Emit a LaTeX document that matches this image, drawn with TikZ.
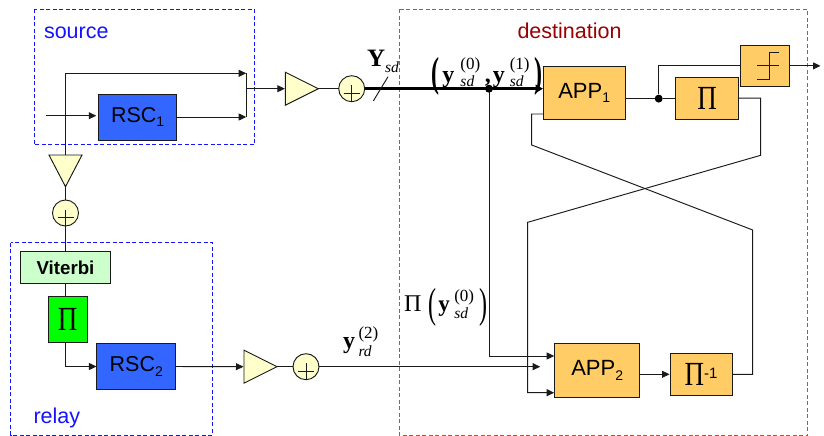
\documentclass[tikz,border=0pt]{standalone}
\usepackage{fontspec}
\usepackage{graphicx}
\setmainfont{Liberation Serif}
\newfontfamily\arial{Liberation Sans}
\usetikzlibrary{arrows.meta,shapes.geometric}
\definecolor{blk}{HTML}{3366FF}
\definecolor{org}{HTML}{FFCC66}
\definecolor{ylw}{HTML}{FFFFCC}
\definecolor{vit}{HTML}{CCFFCC}
\definecolor{grn}{HTML}{00FF00}
\definecolor{dred}{HTML}{990000}
\definecolor{sblue}{RGB}{20,20,255}
\definecolor{regionred}{RGB}{240,50,65}
\definecolor{ln}{HTML}{1A1A1A}
\newcommand\fsz[1]{\fontsize{#1}{#1}\selectfont}
\newcommand\sans[2][21.5]{{\arial\fsz{#1}#2}}
\newcommand\subs[1]{\raisebox{-4.5pt}{\fsz{14}#1}}
\newcommand\pibig{{\fsz{27}\symbolpi}}
\newcommand\symbolpi{\scalebox{1}[1.25]{\char"03A0}}
\newcommand\tallp[3]{\raisebox{#3}{\scalebox{1}[1.75]{\fsz{#2}#1}}}
% bold y with a stacked subscript and superscript: sub, sup, gap, sup raise, size, sub drop
\newcommand\yy[6]{{\bfseries\fsz{#5}y}\kern#3\rlap{\raisebox{#6}{\itshape\fsz{15.5}#1}}\raisebox{#4}{\fsz{17}#2}}
\tikzset{
  x=1pt,y=-1pt,
  wire/.style={draw=ln,line width=0.95pt},
  arr/.style={wire,-{Triangle[length=7.5pt,width=7pt]},shorten >=0.5pt},
  thickwire/.style={draw=black,line width=3pt},
  srcregion/.style={draw=sblue,line width=1pt,dash pattern=on 4pt off 2.5pt},
  dstregion/.style={draw=regionred,line width=1pt,dash pattern=on 4pt off 2.5pt},
  blockbox/.style={draw=ln,line width=1pt,inner sep=0pt,outer sep=0pt,text=black,align=center},
  bluebox/.style={blockbox,fill=blk},
  orgbox/.style={blockbox,fill=org},
  amp/.style={isosceles triangle,isosceles triangle stretches,draw=ln,line width=0.95pt,fill=ylw,
              inner sep=0pt,outer sep=0pt,minimum width=33pt,minimum height=33pt},
  addr/.style={circle,draw=ln,line width=0.95pt,fill=ylw,inner sep=0pt,outer sep=0pt,minimum size=26pt},
  jdot/.style={circle,fill=black,inner sep=0pt,minimum size=8pt},
  lab/.style={inner sep=0pt,outer sep=0pt,anchor=base west},
}
\newcommand\pluss[1]{\draw[wire] ([xshift=-8pt,yshift=-4.5pt]#1.center) -- ([xshift=8pt,yshift=-4.5pt]#1.center)
  ([yshift=3.5pt]#1.center) -- ([yshift=-12.5pt]#1.center);}
\begin{document}
\begin{tikzpicture}
\useasboundingbox (0,0) rectangle (824,436);
% regions
\draw[dstregion] (399.3,9.5) rectangle (807.7,435.3);
\draw[srcregion] (34,9.5) rectangle (254.7,144.7);
\draw[srcregion] (10.7,242.7) rectangle (212.7,435);
\node[lab,text=sblue] (lsource) at (44,38) {\sans{source}};
\node[lab,text=sblue] (lrelay) at (33.5,423) {\sans{relay}};
\node[lab,text=dred] (ldest) at (517.5,38) {\sans{destination}};
% blocks
\node[bluebox,minimum width=78.7pt,minimum height=46pt] (rsc1) at (137.6,117) {\sans{RSC\subs{1}}};
\node[bluebox,minimum width=78.7pt,minimum height=45.6pt] (rsc2) at (136.3,366.5) {\sans{RSC\subs{2}}};
\node[blockbox,fill=vit,minimum width=90.4pt,minimum height=31.6pt] (vit) at (65.5,267.5) {\sans[18.7]{\bfseries Viterbi}};
\node[blockbox,fill=grn,minimum width=38.7pt,minimum height=46pt] (pig) at (67.7,319.3) {\pibig};
\node[orgbox,minimum width=82.3pt,minimum height=53.7pt] (app1) at (584.2,92.9) {\sans[22]{APP\subs{1}}};
\node[orgbox,minimum width=85pt,minimum height=53.7pt] (app2) at (597.2,370.2) {\sans[22]{APP\subs{2}}};
\node[orgbox,minimum width=62.6pt,minimum height=41.7pt] (pi1) at (707,98.2) {\pibig};
\node[orgbox,minimum width=62pt,minimum height=42pt] (pii) at (701,374.3) {\pibig\raisebox{7pt}{\sans[15]{-1}}};
\node[orgbox,minimum width=49.7pt,minimum height=41.7pt] (dec) at (764.9,65.9) {};
% amplifiers and adders
\node[amp,anchor=apex] (t1) at (318.3,88.7) {};
\node[amp,anchor=apex] (t2) at (277,366.7) {};
\node[amp,shape border rotate=270,anchor=apex,minimum height=31.7pt] (t3) at (65.5,186.7) {};
\node[addr] (a1) at (351.7,88.7) {};
\node[addr] (a2) at (306,366.7) {};
\node[addr] (a3) at (65.5,213) {};
\pluss{a1}\pluss{a2}\pluss{a3}
% step symbol
\draw[wire] ([xshift=-7.6pt]dec.center) -- ([xshift=14.4pt]dec.center)
  ([xshift=14.4pt,yshift=13.6pt]dec.center) -- ([xshift=4.4pt,yshift=13.6pt]dec.center)
  -- ([xshift=4.4pt,yshift=-13.4pt]dec.center) -- ([xshift=-8.2pt,yshift=-13.4pt]dec.center);
% free ends and junctions
\coordinate (in) at (46,115.7);
\coordinate (mt) at (246.7,73.3);
\coordinate (mb) at (246.7,117);
\coordinate (mo) at (246.7,88.7);
\coordinate (out) at (821,65.9);
\coordinate (fb1) at (760.7,155.3);
\coordinate (fb1b) at (527.7,222.3);
\coordinate (fb2) at (531.7,145);
\coordinate (fb2b) at (752.7,230);
\coordinate (relayend) at (540.7,366.7);
\coordinate (j1c) at (489,88.7);
\node[jdot] (j2) at (658.7,98.6) {};
% connectors: source
\draw[arr] (t3.lower side) -- (t3.lower side |- mt) -- (mt);
\draw[arr,shorten >=2pt] (in) -- (in -| rsc1.west);
\draw[arr] (rsc1.east) -- (mb);
\draw[wire] (mt) -- (mb);
\draw[arr] (mo) -- (t1.lower side);
\draw[wire] (t1.apex) -- (a1.west);
\draw[thickwire,-{Triangle[length=7.5pt,width=8pt]}] (a1.east) -- (j1c -| app1.west);
\coordinate (sl1) at (373.3,101);
\coordinate (sl2) at (388,76.7);
\draw[wire] (sl1) -- (sl2);
% connectors: relay branch
\draw[wire] (t3.apex) -- (a3.north);
\draw[wire] (a3.south) -- (vit.north -| a3.south);
\draw[wire] (vit.south -| a3.south) -- (pig.north -| a3.south);
\draw[arr] (pig.south -| a3.south) |- (rsc2.west);
\draw[arr] (rsc2.east) -- (t2.lower side);
\draw[wire] (t2.apex) -- (a2.west);
\draw[arr] (a2.east) -- (relayend);
% connectors: destination
\draw[arr] (j1c) |- ([yshift=14.2pt]app2.west);
\node[jdot] (j1) at (j1c) {};
\draw[wire] (app1.east |- j2) -- (j2);
\draw[wire] (j2) -- (pi1.west |- j2);
\draw[wire] (j2) |- (dec.west);
\draw[arr] (dec.east) -- (out);
\draw[arr] (pi1.east) -| (fb1) -- (fb1b) -- ([yshift=-22.5pt]app2.west -| fb1b) -- ([yshift=-22.5pt]app2.west);
\draw[wire] ([yshift=-21.1pt]app1.west) -| (fb2) -- (fb2b) |- (pii.east);
\draw[arr] (app2.east |- pii.west) -- (pii.west);
% labels
\node[lab] (lY) at (367,66.7) {{\bfseries\fsz{25}Y}\raisebox{-6pt}{\itshape\fsz{15.5}sd}};
\node[lab] (lpair) at (431.5,82) {\tallp{\bfseries (}{24}{-4.5pt}\kern3pt\yy{sd}{(0)}{6pt}{13pt}{24}{-4.5pt}\kern4.5pt{\bfseries\fsz{24},}\kern2pt\yy{sd}{(1)}{5pt}{13pt}{24}{-4.5pt}\kern5pt\tallp{\bfseries )}{24}{-4.5pt}};
\node[lab] (lrd) at (343,348) {\yy{rd}{(2)}{3.5pt}{10pt}{24}{-8pt}};
\node[lab] (lpi) at (404,311.7) {{\fsz{24}\char"03A0}\kern7pt\tallp{(}{24}{-6pt}\kern2pt\yy{sd}{(0)}{4.5pt}{10pt}{23}{-6.5pt}\kern5pt\tallp{)}{24}{-6pt}};
\end{tikzpicture}
\end{document}
